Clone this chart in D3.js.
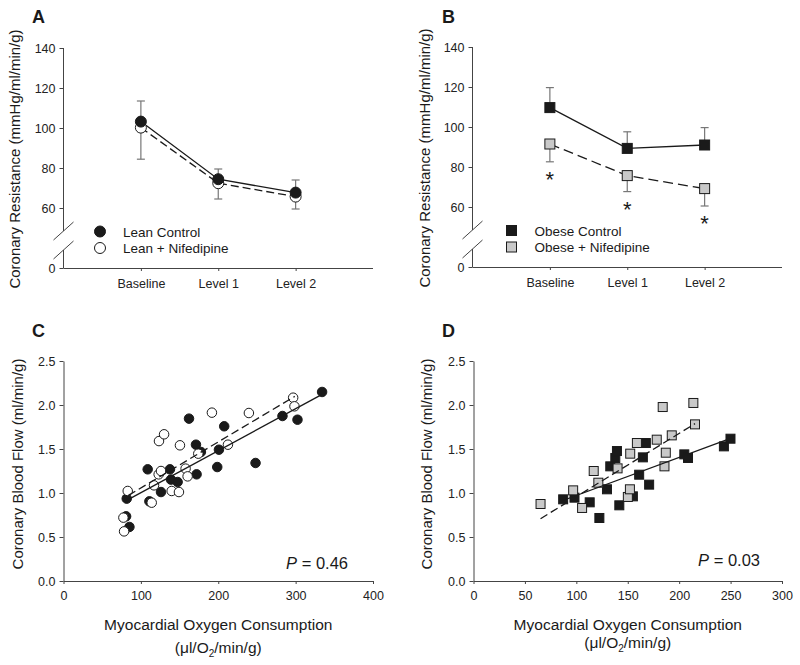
<!DOCTYPE html>
<html>
<head>
<meta charset="utf-8">
<script src="https://cdn.jsdelivr.net/npm/d3@7"></script>
<style>
  body { margin: 0; background: #fff; }
  svg { font-family: "Liberation Sans", Arial, sans-serif; }
  .axis text { fill: #222; font-size: 12.5px; }
  .axis line, .axis path { stroke: #444; }
</style>
</head>
<body>
<script>
// panel A / B data: coronary resistance (mean, one-sided SE)
const categories = ["Baseline", "Level 1", "Level 2"];
const leanControl = [103.2, 74.4, 67.7];
const leanControlErr = [10.3, 5.1, 6.3];
const leanNif = [100.2, 72.4, 65.7];
const leanNifErr = [15.8, 7.9, 6.7];
const obeseControl = [109.7, 89.3, 91.0];
const obeseControlErr = [10.0, 8.3, 8.7];
const obeseNif = [91.5, 75.7, 69.2];
const obeseNifErr = [8.9, 8.0, 8.7];
const resistTicks = [0, 60, 80, 100, 120, 140];
const significant = [true, true, true];

// panel C / D data: [MVO2, flow]
const leanControlPts = [[81.7,0.936],[85.2,0.614],[80.9,0.735],[108.8,1.269],[111,0.905],[126,1.011],
  [137.6,1.269],[138.9,1.152],[147.5,1.125],[162.2,1.845],[171.2,1.549],[172,1.212],[177.6,1.466],
  [207.7,1.758],[200.9,1.492],[198.7,1.295],[248.2,1.341],[283,1.875],[302.4,1.833],[334.2,2.148]];
const leanNifPts = [[77.4,0.72],[78.3,0.564],[83,1.023],[114,0.89],[117,1.087],[123,1.212],[126,1.25],
  [123.4,1.59],[130,1.667],[139.8,1.023],[149.2,1.011],[150.5,1.542],[157.8,1.277],[160.4,1.189],
  [174.2,1.447],[191.8,1.913],[212.5,1.549],[239.6,1.909],[296.8,2.083],[298.5,1.985]];
const obeseControlPts = [[87.2,0.928],[98.2,0.947],[113,0.894],[122.4,0.716],[129.8,1.042],[133,1.303],
  [137.9,1.398],[139.5,1.477],[141.8,0.86],[155,0.962],[161.1,1.208],[164.7,1.405],[167.6,1.568],
  [170.8,1.095],[205,1.439],[208.6,1.398],[243.5,1.53],[249.9,1.617]];
const obeseNifPts = [[65.2,0.875],[96.9,1.03],[105.6,0.83],[116.9,1.25],[121.4,1.117],[140.1,1.28],
  [152.4,1.447],[150.1,0.955],[152.1,1.042],[158.9,1.568],[178.2,1.606],[184,1.977],[187,1.458],
  [185.7,1.303],[192.8,1.655],[213.8,2.023],[215.4,1.78]];
// fitted regression lines (end points)
const leanControlFit = [[81.7,0.917],[334.2,2.121]];
const leanNifFit = [[83.9,0.973],[298.9,2.098]];
const obeseControlFit = [[85.6,0.909],[249.3,1.617]];
const obeseNifFit = [[65.2,0.708],[215.4,1.788]];
const flowTicks = [0, 0.5, 1.0, 1.5, 2.0, 2.5];

const svg = d3.select("body").append("svg")
  .attr("width", 800).attr("height", 665);

const ink = "#1a1a1a";

function panelLetter(t, x, y) {
  svg.append("text").attr("x", x).attr("y", y).text(t)
    .attr("font-size", 18).attr("font-weight", "bold").attr("fill", ink);
}

function yTitle(t, x, y) {
  svg.append("text").attr("transform", `translate(${x},${y}) rotate(-90)`)
    .attr("text-anchor", "middle").attr("font-size", 15).attr("fill", ink).text(t);
}

// ---------- resistance panels ----------
function resistancePanel(o) {
  const g = svg.append("g");
  const x = d3.scalePoint().domain(categories).range([o.x0, o.x1]).padding(1);
  const y = d3.scaleLinear().domain([0, 60, 140]).range([o.yZero, o.yZero - 60, o.yZero - 220]);

  // y axis with break
  const ya = g.append("g").attr("class", "axis").attr("transform", `translate(${o.x0},0)`)
    .call(d3.axisLeft(y).tickValues(resistTicks).tickSize(4).tickPadding(4).tickFormat(d3.format("d")));
  ya.select(".domain").remove();
  const bTop = o.yZero - 37, bBot = o.yZero - 18;
  g.append("line").attr("x1", o.x0).attr("x2", o.x0).attr("y1", y(140)).attr("y2", bTop).attr("stroke", "#444");
  g.append("line").attr("x1", o.x0).attr("x2", o.x0).attr("y1", bBot).attr("y2", o.yZero).attr("stroke", "#444");
  [bTop, bBot].forEach(b => {
    g.append("line").attr("x1", o.x0 - 10).attr("y1", b + 9).attr("x2", o.x0 + 10).attr("y2", b - 9)
      .attr("stroke", "#444");
  });

  // x axis
  const xa = g.append("g").attr("class", "axis").attr("transform", `translate(0,${o.yZero})`)
    .call(d3.axisBottom(x).tickSize(3).tickPadding(8));
  xa.select(".domain").attr("d", `M${o.x0},0.5H${o.x1}`);
  xa.selectAll("text").attr("font-size", 13.5);

  const series = [
    {vals: o.control, err: o.controlErr, dir: 1, dash: null, fill: ink},
    {vals: o.nif, err: o.nifErr, dir: -1, dash: o.dash, fill: o.nifFill}
  ];

  // error bars
  series.forEach(s => {
    s.vals.forEach((v, i) => {
      const cx = x(categories[i]), yEnd = y(v + s.dir * s.err[i]);
      g.append("line").attr("x1", cx).attr("x2", cx).attr("y1", y(v)).attr("y2", yEnd)
        .attr("stroke", "#777").attr("stroke-width", 1.2);
      g.append("line").attr("x1", cx - 4).attr("x2", cx + 4).attr("y1", yEnd).attr("y2", yEnd)
        .attr("stroke", "#777").attr("stroke-width", 1.2);
    });
  });

  const line = d3.line().x((d, i) => x(categories[i])).y(d => y(d));
  series.forEach(s => {
    g.append("path").attr("d", line(s.vals)).attr("fill", "none").attr("stroke", ink)
      .attr("stroke-width", 1.3).attr("stroke-dasharray", s.dash);
  });

  // markers
  series.slice().reverse().forEach(s => {
    s.vals.forEach((v, i) => marker(g, o.shape, x(categories[i]), y(v), s.fill, o.size));
  });

  // asterisks
  if (o.stars) {
    o.nif.forEach((v, i) => {
      if (!o.stars[i]) return;
      g.append("text").attr("x", x(categories[i])).attr("y", y(v - o.nifErr[i]) + 25)
        .attr("text-anchor", "middle").attr("font-size", 22).attr("fill", ink).text("*");
    });
  }

  // legend
  o.legend.forEach((l, i) => {
    const ly = o.yZero - 36.5 + i * 16.5;
    marker(g, o.shape, o.legX, ly, l.fill, o.size);
    g.append("text").attr("x", o.legX + 23).attr("y", ly + 5).attr("font-size", 13.5)
      .attr("fill", ink).text(l.label);
  });
}

function marker(g, shape, cx, cy, fill, size) {
  if (shape === "circle") {
    g.append("circle").attr("cx", cx).attr("cy", cy).attr("r", size / 2)
      .attr("fill", fill).attr("stroke", ink).attr("stroke-width", 1);
  } else {
    g.append("rect").attr("x", cx - size / 2).attr("y", cy - size / 2)
      .attr("width", size).attr("height", size)
      .attr("fill", fill).attr("stroke", ink).attr("stroke-width", 1);
  }
}

resistancePanel({
  x0: 63.5, x1: 373, yZero: 268, shape: "circle", size: 11,
  control: leanControl, controlErr: leanControlErr, nif: leanNif, nifErr: leanNifErr,
  nifFill: "#fff", dash: "8,4", legX: 100,
  legend: [{label: "Lean Control", fill: ink}, {label: "Lean + Nifedipine", fill: "#fff"}]
});
resistancePanel({
  x0: 472.5, x1: 782, yZero: 267, shape: "square", size: 10,
  control: obeseControl, controlErr: obeseControlErr, nif: obeseNif, nifErr: obeseNifErr,
  nifFill: "#c9c9c9", dash: "10,5", legX: 511.5, stars: significant,
  legend: [{label: "Obese Control", fill: ink}, {label: "Obese + Nifedipine", fill: "#c9c9c9"}]
});

// ---------- flow vs MVO2 panels ----------
function scatterPanel(o) {
  const g = svg.append("g");
  const x = d3.scaleLinear().domain([0, o.xMax]).range([o.x0, o.x1]);
  const y = d3.scaleLinear().domain([0, 2.5]).range([581, 361]);

  g.append("g").attr("class", "axis").attr("transform", `translate(${o.x0},0)`)
    .call(d3.axisLeft(y).tickValues(flowTicks).tickSize(4).tickPadding(4).tickSizeOuter(0)
      .tickFormat(d3.format(".1f")));
  const xa = g.append("g").attr("class", "axis").attr("transform", `translate(0,581)`)
    .call(d3.axisBottom(x).tickValues(o.xTicks).tickSize(3).tickPadding(7).tickSizeOuter(0));
  xa.selectAll("text").attr("font-size", 13);

  o.series.forEach(s => {
    s.pts.forEach(p => marker(g, o.shape, x(p[0]), y(p[1]), s.fill, o.size));
  });
  const line = d3.line().x(d => x(d[0])).y(d => y(d[1]));
  o.series.forEach(s => {
    g.append("path").attr("d", line(s.fit)).attr("fill", "none").attr("stroke", ink)
      .attr("stroke-width", 1.3).attr("stroke-dasharray", s.dash);
  });

  const cx = (o.x0 + o.x1) / 2;
  g.append("text").attr("x", cx).attr("y", 630).attr("text-anchor", "middle")
    .attr("font-size", 15.5).attr("fill", ink).text("Myocardial Oxygen Consumption");
  const u = g.append("text").attr("x", cx).attr("y", o.unitY).attr("text-anchor", "middle")
    .attr("font-size", 15.5).attr("fill", ink);
  u.append("tspan").text("(μl/O");
  u.append("tspan").attr("font-size", 10).attr("dy", 4).text("2");
  u.append("tspan").attr("dy", -4).text("/min/g)");

  const pt = g.append("text").attr("x", o.pX).attr("y", o.pY).attr("text-anchor", "end")
    .attr("font-size", 16.5).attr("fill", ink);
  pt.append("tspan").attr("font-style", "italic").text("P");
  pt.append("tspan").text(" = " + o.p);
}

scatterPanel({
  x0: 63.5, x1: 373, xMax: 400, xTicks: [0, 100, 200, 300, 400], shape: "circle", size: 9.5,
  unitY: 653, pX: 348, pY: 569, p: "0.46",
  series: [
    {pts: leanControlPts, fit: leanControlFit, fill: ink, dash: null},
    {pts: leanNifPts, fit: leanNifFit, fill: "#fff", dash: "8,4"}
  ]
});
scatterPanel({
  x0: 473.5, x1: 782, xMax: 300, xTicks: [0, 50, 100, 150, 200, 250, 300], shape: "square", size: 9,
  unitY: 648, pX: 760, pY: 566, p: "0.03",
  series: [
    {pts: obeseControlPts, fit: obeseControlFit, fill: ink, dash: null},
    {pts: obeseNifPts, fit: obeseNifFit, fill: "#c9c9c9", dash: "8,4"}
  ]
});

panelLetter("A", 32, 23);
panelLetter("B", 442, 23);
panelLetter("C", 32, 337);
panelLetter("D", 442, 337);

yTitle("Coronary Resistance (mmHg/ml/min/g)", 20, 159);
yTitle("Coronary Resistance (mmHg/ml/min/g)", 430, 158);
yTitle("Coronary Blood Flow (ml/min/g)", 23, 464);
yTitle("Coronary Blood Flow (ml/min/g)", 432, 464);
</script>
</body>
</html>
